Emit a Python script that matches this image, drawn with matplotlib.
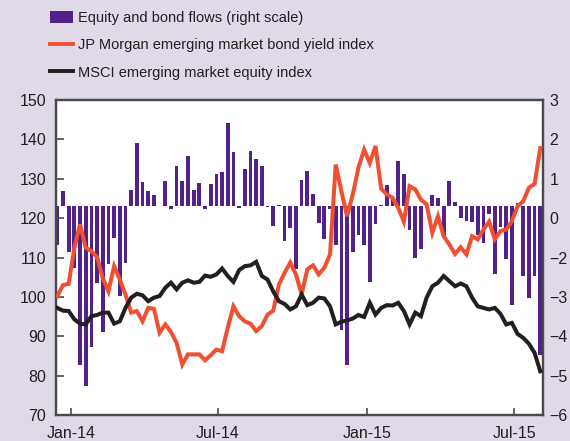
import matplotlib
matplotlib.use("Agg")
import matplotlib.pyplot as plt
from matplotlib.patches import Patch
from matplotlib.lines import Line2D
import pandas as pd

plt.rcParams['font.family'] = ['Liberation Sans', 'DejaVu Sans']

# ---- data (weekly) ----
weeks = pd.date_range('2013-12-15', periods=86, freq='7D')

flows = [-0.97, 0.38, -1.16, -1.57, -4.03, -4.56, -3.58, -1.95, -3.2, -1.47, -0.81, -2.29, -1.44, 0.42, 1.6, 0.61, 0.4, 0.3,
         0.02, 0.64, -0.07, 1.02, 0.64, 1.27, 0.42, 0.58, -0.08, 0.56, 0.81, 0.86, 2.12, 1.37, -0.04, 0.95,
         1.4, 1.2, 1.02, -0.02, -0.51, 0.03, -0.87, -0.55, -1.6, 0.68, 0.89, 0.32, -0.42, -0.83, -0.06, -0.99, -3.14,
         -4.03, -1.16, -0.72, -0.99, -1.93, -0.44, 0.03, 0.55, 0.2, 1.15, 0.81, -0.61, -1.31, -1.09, -0.05, 0.3, 0.2,
         -0.75, 0.64, 0.1, -0.3, -0.38, -0.4, -0.72, -0.93, -0.19, -1.71, -0.53, -1.34, -2.5, 0.08, -1.76, -2.33, -1.76, -3.77]

msci = [97.2, 96.5, 96.4, 94.3, 93.2, 93.0, 95.1, 95.4, 96.0, 96.0, 93.2, 93.8, 97.2, 99.8, 100.8, 100.4, 98.9, 99.8,
        100.2, 102.3, 103.6, 101.9, 103.6, 104.2, 103.6, 103.8, 105.4, 105.1, 105.7, 107.2, 105.3, 103.8, 106.8, 107.8,
        108.0, 108.9, 105.3, 104.4, 101.4, 98.9, 98.2, 96.8, 97.6, 100.6, 97.9, 98.5, 99.8, 99.6, 97.6, 93.0, 93.7,
        94.0, 94.5, 95.4, 94.9, 98.5, 95.5, 97.2, 97.9, 97.8, 98.5, 96.4, 93.0, 96.0, 95.1, 99.8, 102.7, 103.6,
        105.3, 104.0, 102.7, 103.4, 102.7, 99.8, 97.6, 97.2, 96.8, 97.2, 95.7, 93.0, 93.4, 90.6, 89.6, 88.1, 85.8, 81.1]

jpm = [100.2, 103.0, 103.3, 112.5, 118.4, 112.5, 111.6, 110.1, 104.8, 101.4, 107.8, 104.4, 100.6, 96.0, 96.4, 93.8, 97.2, 97.0,
       90.9, 93.0, 91.1, 88.3, 82.8, 85.4, 85.4, 85.4, 83.9, 85.2, 86.6, 86.2, 92.2, 97.6, 95.1, 93.8,
       93.2, 91.3, 92.6, 95.5, 96.5, 103.1, 106.1, 108.7, 105.7, 100.6, 107.0, 108.0, 105.7, 107.4, 110.8, 133.6, 126.8,
       120.5, 126.0, 132.8, 137.4, 134.0, 138.3, 127.5, 126.0, 125.2, 122.6, 119.1, 128.1, 127.3, 124.7, 123.5, 116.3, 120.5,
       115.4, 113.3, 110.9, 112.6, 110.8, 115.4, 114.6, 117.1, 119.1, 114.6, 116.7, 117.1, 119.2, 123.0, 124.3, 127.7, 128.7, 137.8]

flow_base = 0.3  # bar baseline on the right scale as drawn in the source

left_ticks = [70, 80, 90, 100, 110, 120, 130, 140, 150]
right_ticks = [-5, -4, -3, -2, -1, 0, 1, 2, 3]
right_labels = ['\u22126', '\u22125', '\u22124', '\u22123', '\u22122', '0', '1', '2', '3']
x_ticks = pd.to_datetime(['2014-01-01', '2014-07-01', '2015-01-01', '2015-07-01'])
x_labels = ['Jan-14', 'Jul-14', 'Jan-15', 'Jul-15']

labels = ['Equity and bond flows (right scale)',
          'JP Morgan emerging market bond yield index',
          'MSCI emerging market equity index']

# ---- style ----
BG = '#dfd9e8'
PURPLE = '#52218a'
RED = '#f05032'
BLACK = '#231f20'
SPINE = '#4a4a4a'

fig = plt.figure(figsize=(5.70, 4.41), dpi=100, facecolor=BG)
axl = fig.add_axes([56/570, 26/441, (542.7-56)/570, 315/441])
axr = axl.twinx()
axl.set_zorder(axr.get_zorder() + 1)
axl.patch.set_visible(False)
axr.patch.set_visible(True)
axr.patch.set_facecolor('white')

axr.bar(weeks, flows, bottom=flow_base, width=4.6, color=PURPLE, align='center', zorder=1)
axr.set_ylim(-5, 3)
axr.set_yticks(right_ticks)
axr.set_yticklabels(right_labels)

axl.plot(weeks, jpm, color=RED, lw=2.9, solid_joinstyle='miter', zorder=3)
axl.plot(weeks, msci, color=BLACK, lw=2.9, solid_joinstyle='miter', zorder=4)
axl.set_ylim(70, 150)
axl.set_yticks(left_ticks)

x0 = weeks[0] - pd.Timedelta(days=1.6)
x1 = weeks[0] + pd.Timedelta(days=598)
axl.set_xlim(x0, x1)
axl.set_xticks(x_ticks)
axl.set_xticklabels(x_labels)

for a in (axl, axr):
    for s in a.spines.values():
        s.set_color(SPINE)
        s.set_linewidth(1.6)

axl.tick_params(axis='y', direction='in', length=6, width=1.2, color=SPINE, pad=7,
                labelsize=11.5, labelcolor='#231f20')
axl.tick_params(axis='x', direction='in', length=5, width=1.2, color=SPINE, pad=8,
                labelsize=11.5, labelcolor='#231f20')
axr.tick_params(axis='y', direction='in', length=0, pad=5, labelsize=11.5, labelcolor='#231f20')

handles = [Patch(facecolor=PURPLE, edgecolor='none'),
           Line2D([], [], color=RED, lw=2.8),
           Line2D([], [], color=BLACK, lw=2.8)]
fig.legend(handles, labels, loc='upper left', bbox_to_anchor=(50/570, 1 - 11/441),
           frameon=False, fontsize=10.5, handlelength=1.55, handleheight=0.9,
           handletextpad=0.35, labelspacing=0.9, borderpad=0, borderaxespad=0,
           labelcolor='#231f20')

fig.savefig('out.png', dpi=100, facecolor=BG)
